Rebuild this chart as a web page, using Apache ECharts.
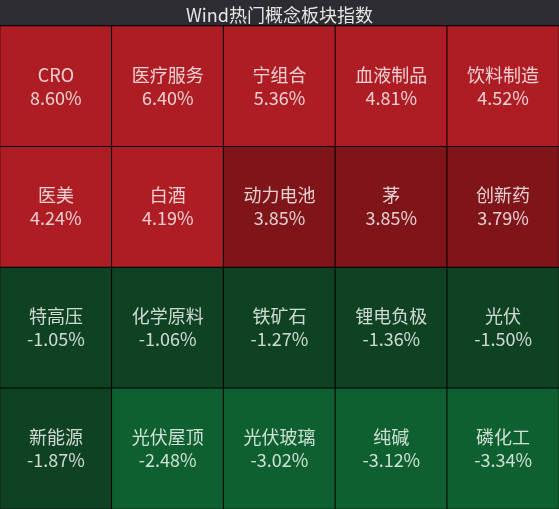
<!DOCTYPE html>
<html>
<head>
<meta charset="utf-8">
<script src="https://cdn.jsdelivr.net/npm/echarts@6/dist/echarts.min.js"></script>
<style>
  html, body { margin: 0; padding: 0; background: #2c2c32; }
  #main { width: 559px; height: 509px; }
</style>
</head>
<body>
<div id="main"></div>
<script>
// 板块名称和涨跌幅（%）
const names = [
  'CRO', '医疗服务', '宁组合', '血液制品', '饮料制造',
  '医美', '白酒', '动力电池', '茅', '创新药',
  '特高压', '化学原料', '铁矿石', '锂电负极', '光伏',
  '新能源', '光伏屋顶', '光伏玻璃', '纯碱', '磷化工'
];
const changes = [
  8.60, 6.40, 5.36, 4.81, 4.52,
  4.24, 4.19, 3.85, 3.85, 3.79,
  -1.05, -1.06, -1.27, -1.36, -1.50,
  -1.87, -2.48, -3.02, -3.12, -3.34
];
const cols = ['0', '1', '2', '3', '4'];
const rows = ['0', '1', '2', '3'];

const cells = names.map((n, i) => [i % 5, Math.floor(i / 5), changes[i], n]);

const chart = echarts.init(document.getElementById('main'));
const font = '"Noto Sans CJK SC", "Microsoft YaHei", sans-serif';

chart.setOption({
  backgroundColor: '#2c2c32',
  animation: false,
  title: {
    text: 'Wind热门概念板块指数',
    left: 'center',
    top: 1,
    textStyle: { color: '#e6e6e6', fontSize: 18, fontWeight: 'normal', fontFamily: font }
  },
  grid: { left: 0, right: 0, top: 26, bottom: 0 },
  xAxis: { type: 'category', data: cols, show: false },
  yAxis: { type: 'category', data: rows, show: false, inverse: true },
  visualMap: {
    show: false,
    type: 'piecewise',
    dimension: 2,
    pieces: [
      { gte: 4, color: '#ae1c24' },
      { gte: 0, lt: 4, color: '#7f1419' },
      { gte: -2, lt: 0, color: '#0e4222' },
      { lt: -2, color: '#0e6030' }
    ]
  },
  series: [{
    type: 'heatmap',
    data: cells,
    itemStyle: { borderColor: '#000', borderWidth: 1 },
    label: {
      show: true,
      color: 'rgba(255,255,255,0.8)',
      fontSize: 18,
      lineHeight: 23,
      fontFamily: font,
      formatter: p => p.data[3] + '\n' + p.data[2].toFixed(2) + '%'
    },
    emphasis: { disabled: true }
  }]
});
</script>
</body>
</html>
